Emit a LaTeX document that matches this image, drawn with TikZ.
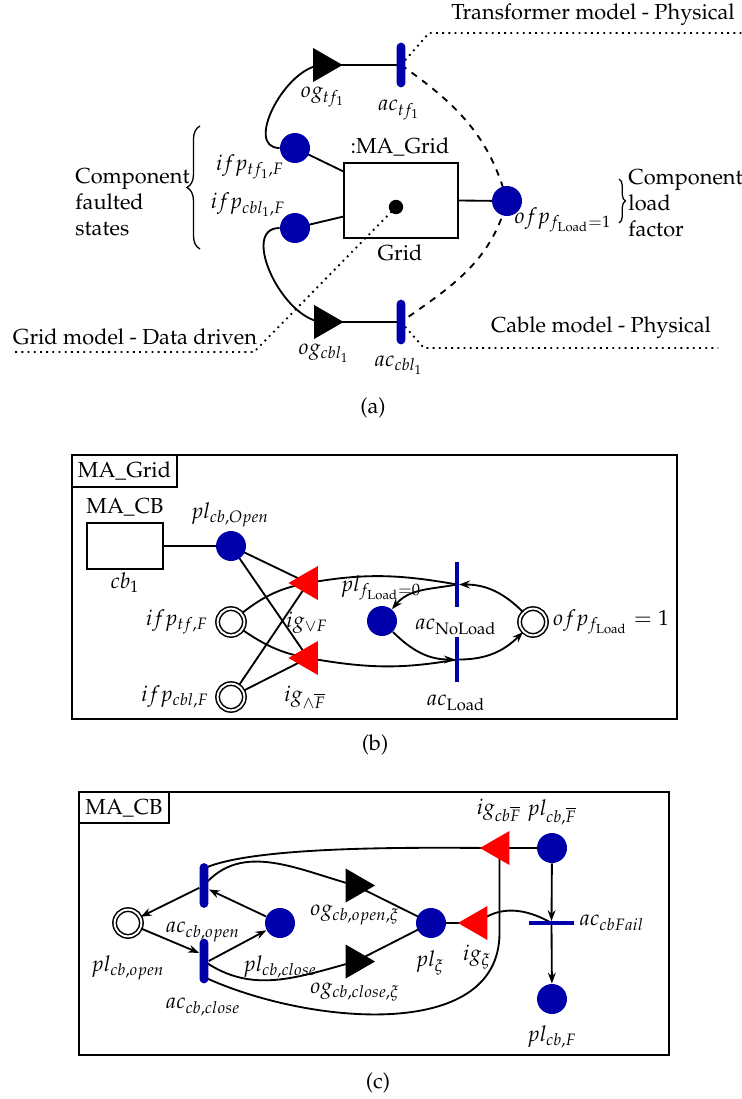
\documentclass[tikz,border=0pt]{standalone}
\usepackage[T1]{fontenc}
\usepackage{mathpazo}
\usepackage{tikz}
\usetikzlibrary{shapes.geometric, arrows.meta, decorations.pathreplacing, backgrounds, calc}

\definecolor{placeblue}{RGB}{0,0,170}

\tikzset{
    place/.style={circle, fill=placeblue, inner sep=0pt, minimum size=13.8pt},
    ioplace/.style={circle, draw, fill=white, double, double distance=0.9pt, line width=0.7pt, inner sep=0pt, minimum size=12.3pt},
    outgate/.style={regular polygon, regular polygon sides=3, shape border rotate=-90, fill=black, inner sep=0pt, minimum size=18pt},
    ingate/.style={regular polygon, regular polygon sides=3, shape border rotate=90, fill=red, inner sep=0pt, minimum size=18pt},
    actbar/.style={rectangle, fill=placeblue, rounded corners=1.9pt, inner sep=0pt, minimum width=4pt, minimum height=20.5pt},
    thinbar/.style={rectangle, fill=placeblue, inner sep=0pt, minimum width=1.4pt, minimum height=20.7pt},
    compbox/.style={rectangle, draw, line width=0.8pt, inner sep=0pt},
    conn/.style={line width=0.85pt},
    dconn/.style={conn, -{Stealth[length=5pt, width=3.6pt]}},
    lbl/.style={inner sep=0pt},
    panel/.style={draw, line width=1pt},
}

\begin{document}
\begin{tikzpicture}[x=0.46pt, y=0.46pt]
    \useasboundingbox (0,0) rectangle (742,-1099);

    % ---------------- (a) component models around the grid ----------------
    \node[outgate] (ogtf) at (323,-65) {};
    \node[actbar] (actf) at (401,-65) {};
    \node[place] (ifptf) at (295,-148) {};
    \node[place] (ifpcbl) at (295,-228) {};
    \node[compbox, minimum width=52.4pt, minimum height=34.5pt] (grid) at (401,-200.5) {};
    \node[circle, fill, inner sep=0pt, minimum size=6.6pt] (griddot) at (396,-207) {};
    \node[place] (ofp) at (507,-201) {};
    \node[outgate] (ogcbl) at (324,-322) {};
    \node[actbar] (accbl) at (401,-322) {};

    \node[lbl] (tTrans) at (593,-15) {Transformer model - Physical};
    \node[lbl] (tCable) at (601,-328) {Cable model - Physical};
    \node[lbl] (tGridm) at (135,-337) {Grid model - Data driven};
    \node[lbl, align=left, anchor=west] (tFault) at (75,-202) {Component\\faulted\\states};
    \node[lbl, align=left, anchor=west] (tLoad) at (628,-203) {Component\\load\\factor};
    \node[lbl] (lOgtf) at (323,-97) {$og_{tf_1}$};
    \node[lbl] (lActf) at (399,-110) {$ac_{tf_1}$};
    \node[lbl] (lMAGrid) at (400,-147) {:MA\_Grid};
    \node[lbl] (lGrid) at (400,-253) {Grid};
    \node[lbl] (lIfptf) at (250,-167) {$ifp_{tf_1,F}$};
    \node[lbl] (lIfpcbl) at (248,-205) {$ifp_{cbl_1,F}$};
    \node[lbl] (lOfp) at (563,-220) {$ofp_{f_{\mathrm{Load}}=1}$};
    \node[lbl] (lOgcbl) at (324,-353) {$og_{cbl_1}$};
    \node[lbl] (lAccbl) at (399,-365) {$ac_{cbl_1}$};
    \node[lbl] (capA) at (373,-408) {(a)};

    % braces
    \draw[decorate, decoration={brace, amplitude=6pt}, line width=0.6pt] (200,-249) -- (200,-126);
    \draw[decorate, decoration={brace, amplitude=3pt}, line width=0.6pt] (619,-179) -- (619,-223);

    \begin{scope}[on background layer]
        \draw[conn] (ogtf.center) -- (actf.center);
        \draw[conn] (ogcbl.center) -- (accbl.center);
        \draw[conn] (ifptf.west) to[out=180, in=180] (ogtf.center);
        \draw[conn] (ifpcbl.west) to[out=180, in=180] (ogcbl.center);
        \draw[conn] (ifptf.center) -- ($(grid.north west)!0.12!(grid.south west)$);
        \draw[conn] (ifpcbl.center) -- ($(grid.north west)!0.71!(grid.south west)$);
        \draw[conn] (grid.east) -- (ofp.center);
        \draw[conn, dashed] (actf.center) to[out=-35, in=105] (ofp.center) to[out=-105, in=35] (accbl.center);
        \draw[conn, dotted] (actf.center) -- (429,-33) -- (742,-33);
        \draw[conn, dotted] (accbl.center) -- (424,-348) -- (718,-348);
        \draw[conn, dotted] (griddot.center) -- (254,-352) -- (12,-352);
    \end{scope}

    % ---------------- (b) MA_Grid ----------------
    \draw[panel] (72,-455) rectangle (677,-719);
    \draw[panel] (72,-455) rectangle (177,-487);
    \node[lbl] (tabGrid) at (124.5,-471) {MA\_Grid};

    \node[lbl] (lMACB) at (125,-507) {MA\_CB};
    \node[compbox, minimum width=35pt, minimum height=21.2pt] (cb1) at (125,-546) {};
    \node[place] (plopen) at (231,-546) {};
    \node[ingate] (igor) at (308,-583) {};
    \node[ingate] (igand) at (308,-658) {};
    \node[ioplace] (ifptfb) at (231,-622) {};
    \node[ioplace] (ifpcblb) at (231,-697) {};
    \node[place] (plzero) at (382,-621) {};
    \node[thinbar] (acnoload) at (457,-584.5) {};
    \node[thinbar] (acload) at (457,-659.5) {};
    \node[ioplace] (ofpb) at (533,-622) {};

    \node[lbl] (lcb1) at (125,-583) {$cb_1$};
    \node[lbl] (lplopen) at (230,-515) {$pl_{cb,Open}$};
    \node[lbl] (lifptfb) at (177,-622) {$ifp_{tf,F}$};
    \node[lbl] (lifpcblb) at (175,-697) {$ifp_{cbl,F}$};
    \node[lbl] (ligor) at (307,-623) {$ig_{\vee F}$};
    \node[lbl] (ligand) at (305,-697) {$ig_{\wedge\overline{F}}$};
    \node[lbl] (lplzero) at (381,-588) {$pl_{f_{\mathrm{Load}}=0}$};
    \node[lbl] (lacnoload) at (456,-627) {$ac_{\mathrm{NoLoad}}$};
    \node[lbl] (lacload) at (456,-703) {$ac_{\mathrm{Load}}$};
    \node[lbl] (lofpb) at (611,-622) {$ofp_{f_{\mathrm{Load}}} = 1$};
    \node[lbl] (capB) at (375,-745) {(b)};

    \begin{scope}[on background layer]
        \draw[conn] (cb1.east) -- (plopen.center);
        \draw[conn] (plopen.center) -- (igor.center);
        \draw[conn] (plopen.center) -- (igand.center);
        \draw[conn] (ifptfb.center) to[out=40, in=190] (igor.center);
        \draw[conn] (ifptfb.center) to[out=-35, in=170] (igand.center);
        \draw[conn] (ifpcblb.center) -- (igor.center);
        \draw[conn] (ifpcblb.center) -- (igand.center);
        \draw[conn] (igor.center) to[out=10, in=170] (acnoload.center);
        \draw[conn] (igand.center) to[out=-10, in=190] (acload.center);
    \end{scope}
    \draw[dconn] (acnoload) to[out=190, in=50] (plzero);
    \draw[dconn] (ofpb) to[out=135, in=0] (acnoload);
    \draw[dconn] (plzero) to[out=-45, in=180] (acload);
    \draw[dconn] (acload) to[out=0, in=-135] (ofpb);

    % ---------------- (c) MA_CB ----------------
    \draw[panel] (79,-792) rectangle (669,-1055);
    \draw[panel] (79,-792) rectangle (169,-823);
    \node[lbl] (tabCB) at (124,-808) {MA\_CB};

    \node[ioplace] (plcbopen) at (128,-923) {};
    \node[actbar] (acopen) at (204,-885.5) {};
    \node[actbar] (acclose) at (204,-961) {};
    \node[place] (plcbclose) at (280,-923) {};
    \node[outgate] (ogopen) at (355.5,-885.5) {};
    \node[outgate] (ogclose) at (355.5,-961.5) {};
    \node[place] (plxi) at (431,-923) {};
    \node[ingate] (igxi) at (477.5,-923) {};
    \node[ingate] (igcbf) at (499.5,-848) {};
    \node[place] (plcbnf) at (552,-848) {};
    \node[thinbar, minimum width=20.7pt, minimum height=1.4pt] (accbfail) at (551.5,-923) {};
    \node[place] (plcbf) at (552,-999) {};

    \node[lbl] (lplcbopen) at (128,-968) {$pl_{cb,open}$};
    \node[lbl] (lacopen) at (203,-932) {$ac_{cb,open}$};
    \node[lbl] (lacclose) at (203,-1007) {$ac_{cb,close}$};
    \node[lbl] (lplcbclose) at (280,-967) {$pl_{cb,close}$};
    \node[lbl] (logopen) at (355,-915) {$og_{cb,open,\xi}$};
    \node[lbl] (logclose) at (355,-992) {$og_{cb,close,\xi}$};
    \node[lbl] (lplxi) at (430,-963) {$pl_{\xi}$};
    \node[lbl] (ligxi) at (477,-957) {$ig_{\xi}$};
    \node[lbl] (ligcbf) at (499,-810) {$ig_{cb\overline{F}}$};
    \node[lbl] (lplcbnf) at (552,-812) {$pl_{cb,\overline{F}}$};
    \node[lbl] (laccbfail) at (612,-923) {$ac_{cbFail}$};
    \node[lbl] (lplcbf) at (552,-1037) {$pl_{cb,F}$};
    \node[lbl] (capC) at (378,-1083) {(c)};

    \begin{scope}[on background layer]
        \draw[conn] (acopen.center) to[out=50, in=165] (ogopen.center);
        \draw[conn] (acclose.center) to[out=-35, in=195] (ogclose.center);
        \draw[conn] (ogopen.center) -- (plxi.center);
        \draw[conn] (ogclose.center) -- (plxi.center);
        \draw[conn] (plxi.center) -- (igxi.center);
        \draw[conn] (accbfail.center) to[out=150, in=40] (igxi.center);
        \draw[conn] (plcbnf.center) -- (igcbf.center);
        \draw[conn] ($(acopen.center)+(0,17)$) to[out=25, in=180, looseness=0.5] (igcbf.center);
        \draw[conn] (igcbf.center) -- ++(0,-85) to[out=-90, in=-25, looseness=0.95] ($(acclose.center)+(0,-16)$);
    \end{scope}
    \draw[dconn] (acopen) -- (plcbopen);
    \draw[dconn] (plcbopen) -- ($(acclose.west)+(0,8)$);
    \draw[dconn] (acclose.east) -- (plcbclose);
    \draw[dconn] (plcbclose) -- ($(acopen.east)+(0,-4)$);
    \draw[dconn] (plcbnf) -- (accbfail);
    \draw[dconn] (accbfail) -- (plcbf);
\end{tikzpicture}
\end{document}
